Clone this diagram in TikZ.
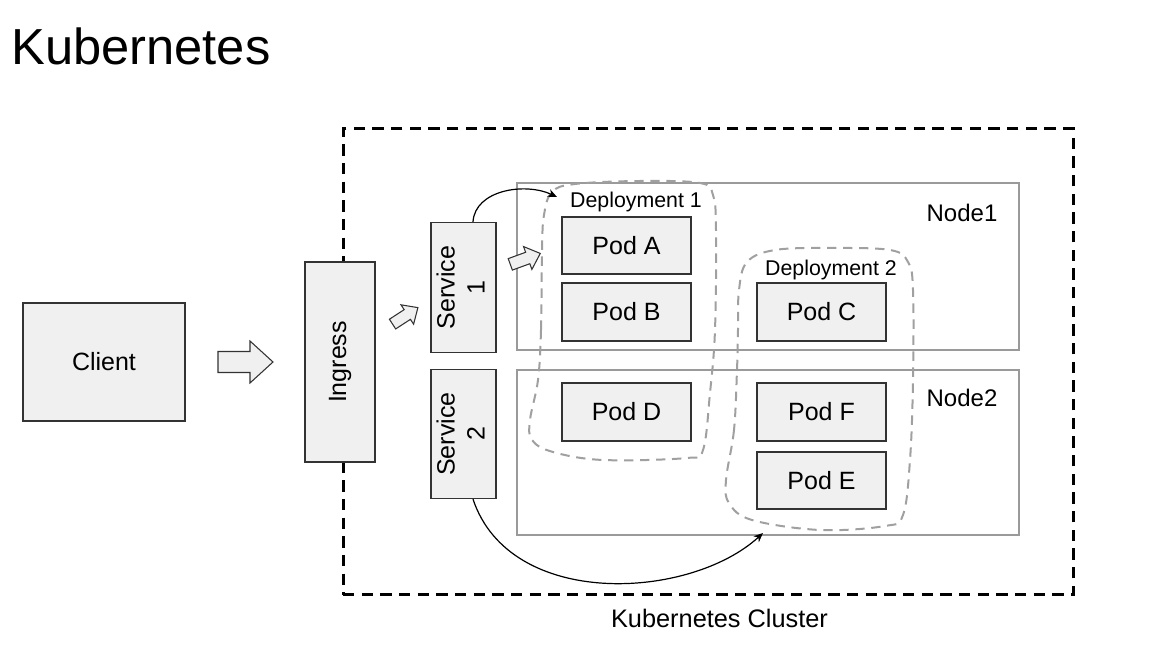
\documentclass[tikz,border=0pt]{standalone}
\usepackage{fontspec}
\setmainfont{Liberation Sans}
\usepackage{graphicx}
\usetikzlibrary{arrows.meta}
\definecolor{boxfill}{HTML}{F0F0F0}
\definecolor{boxline}{HTML}{333333}
\definecolor{nodeline}{HTML}{9A9A9A}
\definecolor{depline}{HTML}{A0A0A0}
\def\pxu{0.75pt}
\newcommand\bodyfont{\fontsize{18.75}{22.5}\selectfont}
\newcommand\titlefont{\fontsize{38}{44}\selectfont}
\newcommand\depfont{\fontsize{16}{19}\selectfont}
\newcommand\nodefont{\fontsize{18}{21}\selectfont}
\newcommand\clfont{\fontsize{19}{22}\selectfont}
\tikzset{
  box/.style={draw=boxline, fill=boxfill, line width=1pt, inner sep=0pt, font=\bodyfont},
  nodebox/.style={draw=nodeline, line width=1.1pt, inner sep=0pt},
  clusterbox/.style={draw=black, line width=2.25pt, dash pattern=on 8.5pt off 5.5pt, inner sep=0pt},
  depblob/.style={draw=depline, line width=1.5pt, dash pattern=on 7pt off 5pt},
  conn/.style={draw=black, line width=0.9pt, -{Stealth[length=7pt,width=6pt]}},
  fat/.style={draw=boxline, fill=boxfill, line width=0.8pt, line join=miter},
  fatarrow/.pic={\draw[fat] (-27,-10.5) -- (5,-10.5) -- (5,-21) -- (28,0) -- (5,21) -- (5,10.5) -- (-27,10.5) -- cycle;}
}
\begin{document}
\begin{tikzpicture}[x=0.75pt, y=-0.75pt]
\useasboundingbox (0,0) rectangle (1165,666);
% title
\node[anchor=base west, font=\titlefont, inner sep=0pt] (title) at (11,65) {Kubernetes};
% cluster
\node[clusterbox, minimum width=730*\pxu, minimum height=466*\pxu] (cluster) at (708,362) {};
\node[font=\clfont, inner sep=0pt, anchor=base] (cllab) at (719.5,628) {Kubernetes Cluster};
% worker nodes
\node[nodebox, minimum width=502*\pxu, minimum height=167*\pxu] (node1) at (768,266.5) {};
\node[nodebox, minimum width=502*\pxu, minimum height=165*\pxu] (node2) at (768,452.5) {};
\node[font=\nodefont, inner sep=0pt] (n1lab) at (962,213) {Node1};
\node[font=\nodefont, inner sep=0pt] (n2lab) at (962,398) {Node2};
% deployments
\draw[depblob] plot[smooth cycle, tension=0.6] coordinates {(542,250) (541,330) (538,380) (530,420) (532,440) (553,452) (603,460) (687,458) (703,450) (710,393) (715,330) (716,230) (713,195) (700,183) (640,181) (575,184) (552,192) (544,215)};
\draw[depblob] plot[smooth cycle, tension=0.6] coordinates {(737,370) (734,430) (726,480) (729,503) (752,520) (820,530) (885,526) (903,515) (910,460) (913,380) (913,290) (908,262) (890,250) (830,248) (775,250) (747,262) (739,290) (738,330)};
\node[font=\depfont, inner sep=0pt] (d1lab) at (636,202) {Deployment 1};
\node[font=\depfont, inner sep=0pt] (d2lab) at (831,270) {Deployment 2};
% pods
\node[box, minimum width=129*\pxu, minimum height=57*\pxu] (podA) at (626.5,245.5) {Pod A};
\node[box, minimum width=129*\pxu, minimum height=58*\pxu] (podB) at (626.5,312) {Pod B};
\node[box, minimum width=129*\pxu, minimum height=58*\pxu] (podC) at (821.5,312) {Pod C};
\node[box, minimum width=129*\pxu, minimum height=58*\pxu] (podD) at (626.5,412) {Pod D};
\node[box, minimum width=129*\pxu, minimum height=58*\pxu] (podF) at (821.5,412) {Pod F};
\node[box, minimum width=129*\pxu, minimum height=57*\pxu] (podE) at (821.5,480.5) {Pod E};
% services
\node[box, minimum width=65*\pxu, minimum height=130*\pxu] (svc1) at (463.5,287.5) {\rotatebox{90}{\begin{tabular}{@{}c@{}}Service\\1\end{tabular}}};
\node[box, minimum width=65*\pxu, minimum height=129*\pxu] (svc2) at (463.5,434) {\rotatebox{90}{\begin{tabular}{@{}c@{}}Service\\2\end{tabular}}};
% ingress and client
\node[box, minimum width=70*\pxu, minimum height=200*\pxu] (ingress) at (340,362) {\rotatebox{90}{Ingress}};
\node[box, minimum width=162*\pxu, minimum height=118*\pxu] (client) at (104,362) {Client};
% fat arrows
\pic at (245,362) {fatarrow};
\pic[rotate=33, scale=0.55] at (405,316) {fatarrow};
\pic[rotate=20, scale=0.58] at (525,259) {fatarrow};
% connectors
\coordinate (d1in) at (557,197);
\coordinate (d2in) at (763,533);
\draw[conn] ([xshift=9.5*\pxu]svc1.north) .. controls (475,190) and (525,182) .. (d1in);
\draw[conn] ([xshift=9.5*\pxu]svc2.south) .. controls (510,610) and (690,600) .. (d2in);
\end{tikzpicture}
\end{document}
